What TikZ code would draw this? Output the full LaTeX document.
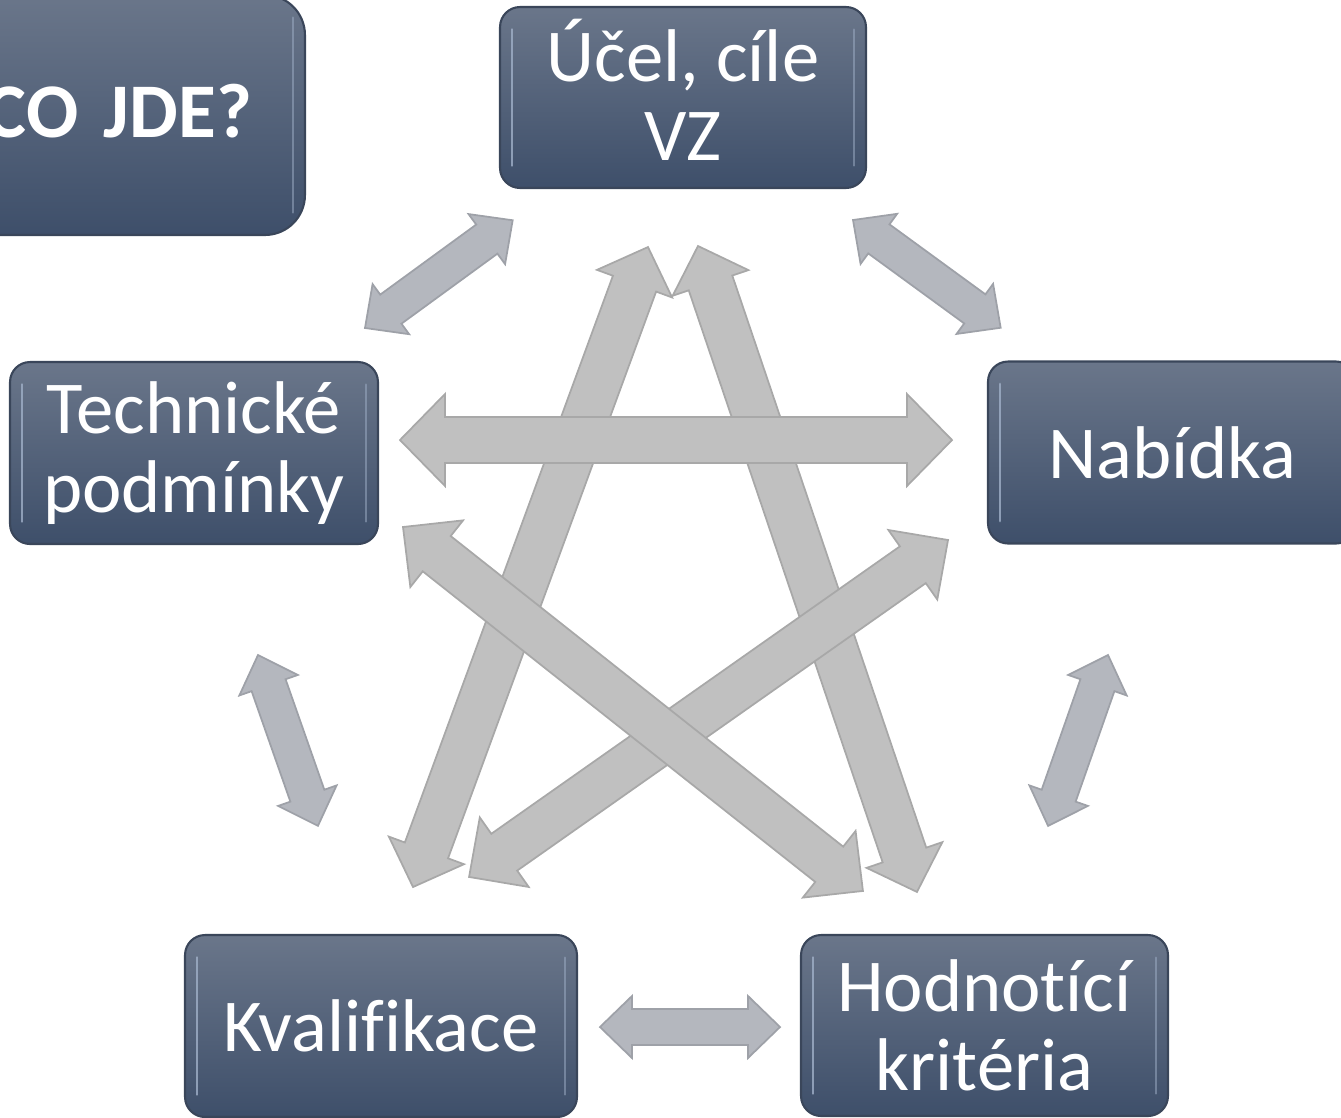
\documentclass[tikz,border=0pt]{standalone}
\usepackage{fontspec}
\setmainfont{Carlito}[Ligatures=NoCommon]
\usetikzlibrary{calc}

\definecolor{boxtop}{RGB}{106,118,138}
\definecolor{boxbot}{RGB}{62,79,106}
\definecolor{boxline}{RGB}{58,70,90}
\definecolor{boxhl}{RGB}{160,176,200}
\definecolor{bigfill}{RGB}{192,192,192}
\definecolor{bigline}{RGB}{168,168,168}
\definecolor{smallfill}{RGB}{180,183,190}
\definecolor{smallline}{RGB}{158,161,168}

\tikzset{
  box/.style={draw=boxline, line width=1.2pt, rounded corners=0.4cm,
    top color=boxtop, bottom color=boxbot, text=white, align=center,
    font=\fontsize{42.5}{45}\selectfont, inner sep=0pt,
    minimum width=7.36cm, minimum height=3.64cm,
    path picture={
      \draw[boxhl, line width=1.6pt, line cap=round, opacity=0.8]
        ([xshift=0.24cm,yshift=-0.45cm]path picture bounding box.north west) --
        ([xshift=0.24cm,yshift=0.45cm]path picture bounding box.south west);
      \draw[boxhl, line width=1.2pt, line cap=round, opacity=0.5]
        ([xshift=-0.24cm,yshift=-0.45cm]path picture bounding box.north east) --
        ([xshift=-0.24cm,yshift=0.45cm]path picture bounding box.south east);}},
  bigarrow/.style={fill=bigfill, draw=bigline, line width=1pt},
  smallarrow/.style={fill=smallfill, draw=smallline, line width=1pt},
}

% block arrow with two heads: [style]{from}{to}{half shaft}{half head}{head length}
\newcommand{\dblarrow}[6][]{%
  \draw[#1] let \p1=($(#3)-(#2)$), \n1={atan2(\y1,\x1)}, \n2={veclen(\x1,\y1)} in
    {[shift={(#2)}, rotate=\n1]
    (0pt,0pt) -- (#6,#5) -- (#6,#4) -- (\n2-#6,#4) -- (\n2-#6,#5) -- (\n2,0pt)
    -- (\n2-#6,-#5) -- (\n2-#6,-#4) -- (#6,-#4) -- (#6,-#5) -- cycle};
}

\begin{document}
\begin{tikzpicture}[x=0.02cm, y=-0.02cm]
  \clip (0,0) rectangle (1341,1117);

  % boxes
  \node[box, minimum width=9.1cm, minimum height=4.8cm, rounded corners=0.8cm,
        text width=6.98cm, inner xsep=1.06cm, align=right,
        font=\fontsize{44}{50}\selectfont\bfseries] (cojde) at (77.5,115) {\raisebox{0.16cm}{CO JDE?}};
  \node[box, minimum width=7.32cm, minimum height=3.62cm, text depth=0.3cm] (ucel) at (683,97.5) {Účel, cíle\\VZ};
  \node[box] (tech) at (194,453) {Technické\\podmínky};
  \node[box] (nab)  at (1172,452.5) {Nabídka};
  \node[box, minimum width=7.84cm] (kval) at (381,1026) {Kvalifikace};
  \node[box, minimum width=7.34cm, minimum height=3.62cm] (hod) at (984.5,1025.5) {Hodnotící\\kritéria};

  % arrow ends
  \coordinate (h1) at (400,440);  \coordinate (h2) at (952,440);
  \coordinate (b1) at (413,887);  \coordinate (b2) at (648,247);
  \coordinate (c1) at (698,246);  \coordinate (c2) at (917,892);
  \coordinate (d1) at (403,527);  \coordinate (d2) at (863,891);
  \coordinate (e1) at (948,540);  \coordinate (e2) at (469,877);

  \coordinate (tl1) at (365,328);  \coordinate (tl2) at (513,220);
  \coordinate (tr1) at (853,220);  \coordinate (tr2) at (1001,328);
  \coordinate (l1)  at (258,655);  \coordinate (l2)  at (318,826);
  \coordinate (r1)  at (1108,655); \coordinate (r2)  at (1048,826);
  \coordinate (k1)  at (600,1027); \coordinate (k2)  at (780,1027);

  % star
  \dblarrow[bigarrow]{b1}{b2}{0.46cm}{0.8cm}{0.78cm}
  \dblarrow[bigarrow]{c1}{c2}{0.46cm}{0.8cm}{0.78cm}
  \dblarrow[bigarrow]{e1}{e2}{0.45cm}{0.85cm}{0.86cm}
  \dblarrow[bigarrow]{d1}{d2}{0.45cm}{0.85cm}{0.86cm}
  \dblarrow[bigarrow]{h1}{h2}{0.46cm}{0.92cm}{0.9cm}

  % outer ring
  \dblarrow[smallarrow]{tl1}{tl2}{0.36cm}{0.62cm}{0.64cm}
  \dblarrow[smallarrow]{tr1}{tr2}{0.36cm}{0.62cm}{0.64cm}
  \dblarrow[smallarrow]{l1}{l2}{0.36cm}{0.62cm}{0.64cm}
  \dblarrow[smallarrow]{r1}{r2}{0.36cm}{0.62cm}{0.64cm}
  \dblarrow[smallarrow]{k1}{k2}{0.36cm}{0.62cm}{0.64cm}
\end{tikzpicture}
\end{document}
